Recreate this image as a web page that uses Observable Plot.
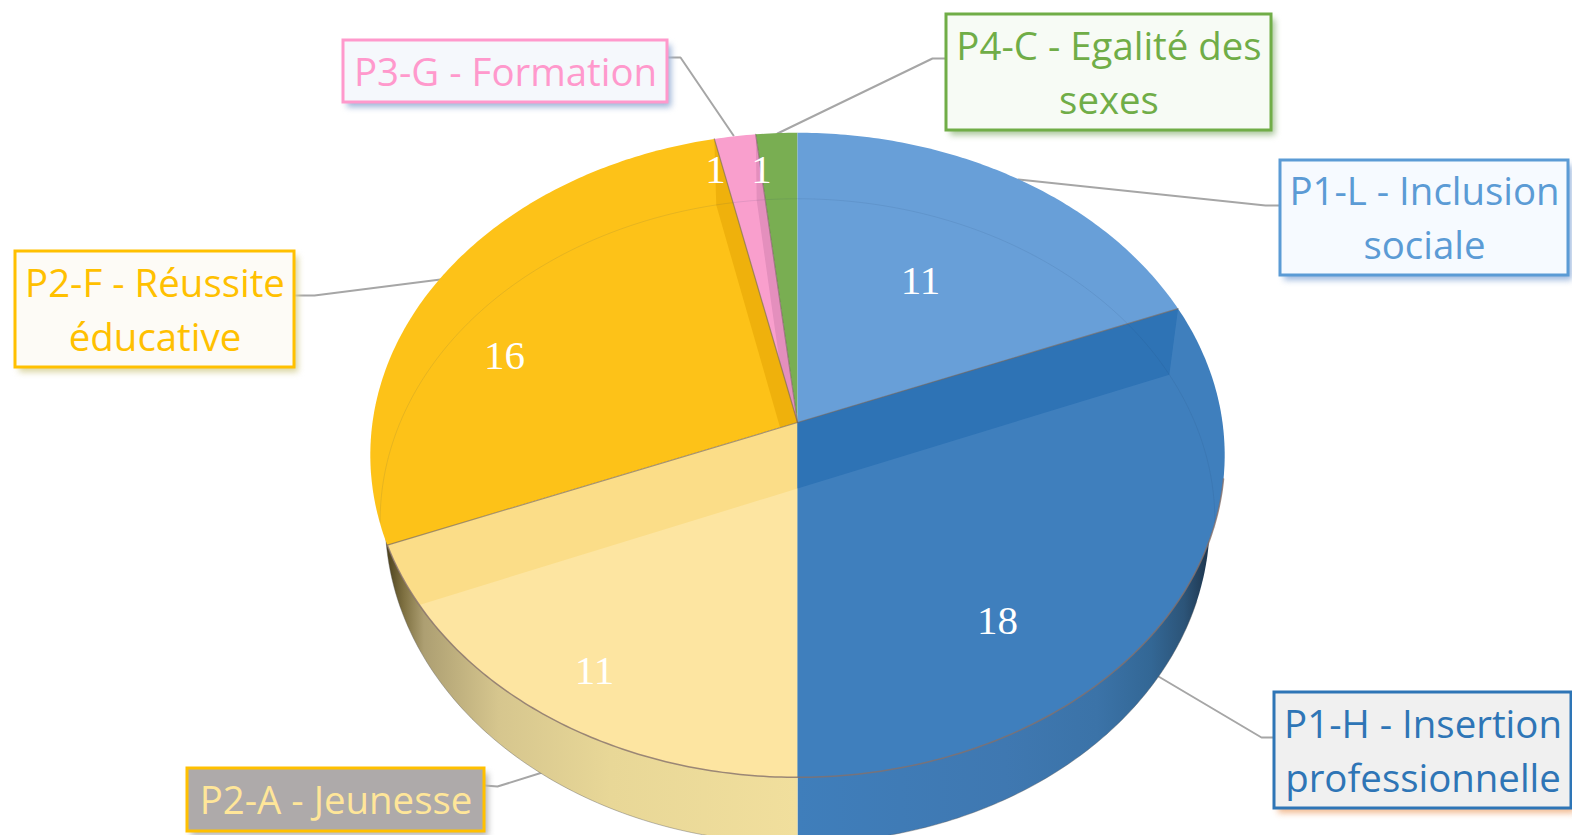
<!DOCTYPE html>
<html>
<head>
<meta charset="utf-8">
<style>html,body{margin:0;padding:0;background:#fff;overflow:hidden}svg{display:block}</style>
<script src="https://cdn.jsdelivr.net/npm/d3@7"></script>
<script src="https://cdn.jsdelivr.net/npm/@observablehq/plot@0.6"></script>
</head>
<body>
<div id="chart"></div>
<script>
// ---- data ----
const categories = ["P1-L","P1-H","P2-A","P2-F","P3-G","P4-C"];
const values = [11,18,11,16,1,1];
const labelLines = [
  ["P1-L - Inclusion","sociale"],
  ["P1-H - Insertion","professionnelle"],
  ["P2-A - Jeunesse"],
  ["P2-F - Réussite","éducative"],
  ["P3-G - Formation"],
  ["P4-C - Egalité des","sexes"]
];
// ---- styles ----
const topColors  = ["#689fd8","#3f7fbd","#fde5a1","#fdc218","#f99fcd","#79ae52"];
const faceColors = ["#689fd8","#2e73b5","#fbdd88","#efb10c","#e48fbd","#79ae52"];
const textColors = ["#5b9bd5","#2e75b6","#ffe699","#ffc000","#ff99cc","#70ad47"];
const boxStroke  = ["#5b9bd5","#2e75b6","#ffc000","#ffc000","#ff99cc","#70ad47"];
const boxFill    = ["#f6faff","#f0f0f0","#aeaaaa","#fdfbf6","#f5f8fc","#f7fbf5"];
const boxShadow  = ["#9db8de","#f2b98f","#b5b5b5","#d9d4a0","#9db4d8","#a9c69a"];
// ---- layout (pixels) ----
const boxX1 = [1280,1274,187,15,343,946];
const boxX2 = [1568,1571,484,294,667,1271];
const boxY1 = [160,692,768,251,40,14];
const boxY2 = [275,808,831,367,102,130];
const leaders = [
  [[1280,205],[1265,205],[1018,179]],
  [[1274,737],[1261,737],[1158,676]],
  [[484,785],[497,786],[545,771]],
  [[294,295],[314,295],[440,279]],
  [[667,57],[680,57],[733,135]],
  [[946,58],[932,58],[777,133]]
];
const valueX = [920,997,594,504,715,761];
const valueY = [280,620,670,355,169,169];
const cx = 797, cy = 422, a = 425, b = 319, k = 0.101, depth = 66;
const floorScale = 0.977, wallScale = 0.965;

// projection of a disc rim at angle t (clockwise from 12 o'clock)
function P(t, level = 0) {
  const u = Math.sin(t), v = -Math.cos(t), w = 1 - k * v;
  const s = level === 0 ? 1 : level === 1 ? floorScale : wallScale;
  return {x: cx + s * a * u / w, y: cy + (level ? depth : 0) + b * v / w};
}
const total = d3.sum(values);
let acc = 0;
const slices = categories.map((c, i) => {
  const t0 = acc / total * 2 * Math.PI;
  acc += values[i];
  return {i, c, t0, t1: acc / total * 2 * Math.PI};
});
const arc = (t0, t1, level) => {
  const n = Math.max(2, Math.ceil((t1 - t0) * 80));
  return d3.range(n + 1).map(j => P(t0 + (t1 - t0) * j / n, level));
};
const deg = Math.PI / 180;
const apex = {x: cx, y: cy}, apexLow = {x: cx, y: cy + depth};
const tag = (pts, key, fill) => pts.map(p => ({...p, key, fill}));
const topOf = i => tag([apex, ...arc(slices[i].t0, slices[i].t1, 0)], "top" + i, topColors[i]);
const faceOf = (i, t) => tag([apex, P(t, 0), P(t, 1), apexLow], "face" + i, faceColors[i]);
// the P2-A cut face stops where its lower edge leaves the top surface
const faceClippedToRim = (i, t) => {
  const q = P(t, 1);
  const side = p => (q.x - apexLow.x) * (p.y - apexLow.y) - (q.y - apexLow.y) * (p.x - apexLow.x);
  const s0 = Math.sign(side(P(t, 0)));
  let end = t;
  while (end > t - 1 && Math.sign(side(P(end, 0))) === s0) end -= 0.002;
  return tag([apex, ...arc(end, t, 0).reverse(), apexLow], "face" + i, faceColors[i]);
};
// painter's order: every cut face is covered by the slices that follow it
const surfaceRows = [
  ...topOf(5), ...topOf(0),
  ...topOf(4), ...faceOf(4, slices[4].t1),
  ...topOf(3), ...faceOf(3, slices[3].t1),
  ...topOf(2), ...faceClippedToRim(2, slices[2].t1),
  ...topOf(1), ...faceOf(1, slices[1].t0)
];
const wallBlueRows = [...arc(slices[1].t0, Math.PI, 2), apexLow];
const wallYellowRows = [...arc(Math.PI, slices[2].t1 + 15 * deg, 2), apexLow];
const silhouette = arc(110 * deg, 262 * deg, 2);
const faintRing = arc(264 * deg, 2 * Math.PI + 97 * deg, 1);
const frontRim = arc(100 * deg, slices[2].t1, 0);
const edgeRows = [slices[0].t1, slices[2].t1, slices[4].t0, slices[4].t1]
  .flatMap((t, i) => tag([apex, P(t, 0)], "edge" + i));

const boxes = categories.map((c, i) => ({
  c, x1: boxX1[i], x2: boxX2[i], y1: boxY1[i], y2: boxY2[i],
  stroke: boxStroke[i], fill: boxFill[i], shadow: boxShadow[i]
}));
const textRows = labelLines.flatMap((ls, i) => ls.map((t, j) => ({
  t, color: textColors[i],
  x: (boxX1[i] + boxX2[i]) / 2,
  y: (boxY1[i] + boxY2[i]) / 2 + (j - (ls.length - 1) / 2) * 54 + 2
})));
const leaderRows = leaders.flatMap((l, i) => l.map(([x, y]) => ({x, y, key: categories[i]})));
const valueRows = values.map((v, i) => ({v: String(v), x: valueX[i], y: valueY[i]}));

const gradient = (id, x1, x2, stops) => () => {
  const defs = d3.create("svg:defs");
  const g = defs.append("linearGradient").attr("id", id).attr("gradientUnits", "userSpaceOnUse")
    .attr("x1", x1).attr("x2", x2).attr("y1", 0).attr("y2", 0);
  stops.forEach(([o, col]) => g.append("stop").attr("offset", o).attr("stop-color", col));
  return defs.node();
};
const blur = (index, scales, values, dims, ctx, next) => {
  const g = next(index, scales, values, dims, ctx);
  g.style.filter = "blur(3px)";
  return g;
};

const chart = Plot.plot({
  width: 1572, height: 835, margin: 0,
  x: {domain: [0, 1572], range: [0, 1572], axis: null},
  y: {domain: [0, 835], range: [0, 835], axis: null},
  color: {type: "identity"},
  style: {background: "#fff"},
  marks: [
    gradient("wallBlue", 797, 1213, [[0,"#3f7ebb"],[0.5,"#3f78b1"],[0.72,"#3b73a8"],[0.85,"#336795"],[0.93,"#2c5478"],[1,"#1a2f45"]]),
    gradient("wallYellow", 382, 797, [[0,"#3f3514"],[0.05,"#7d6f40"],[0.1,"#ad9f72"],[0.28,"#d6c68e"],[0.55,"#e8d797"],[1,"#f1df9d"]]),
    Plot.line(leaderRows, {x: "x", y: "y", z: "key", stroke: "#a6a6a6", strokeWidth: 2}),
    Plot.line(wallBlueRows, {x: "x", y: "y", fill: "url(#wallBlue)", stroke: "none"}),
    Plot.line(wallYellowRows, {x: "x", y: "y", fill: "url(#wallYellow)", stroke: "none"}),
    Plot.line(silhouette, {x: "x", y: "y", stroke: "#5a5a5a", strokeOpacity: 0.4, strokeWidth: 1}),
    Plot.line(surfaceRows, {x: "x", y: "y", z: "key", fill: "fill", stroke: "none"}),
    Plot.line(faintRing, {x: "x", y: "y", stroke: "#1f3864", strokeOpacity: 0.1, strokeWidth: 1}),
    Plot.line(edgeRows, {x: "x", y: "y", z: "key", stroke: "#77695f", strokeOpacity: 0.65, strokeWidth: 1.2}),
    Plot.line(frontRim, {x: "x", y: "y", stroke: "#85706c", strokeOpacity: 0.8, strokeWidth: 1.5}),
    Plot.rect(boxes, {x1: "x1", x2: "x2", y1: "y1", y2: "y2", fill: "shadow", dx: 4, dy: 5, render: blur}),
    Plot.rect(boxes, {x1: "x1", x2: "x2", y1: "y1", y2: "y2", fill: "fill", stroke: "stroke", strokeWidth: 3}),
    Plot.text(textRows, {x: "x", y: "y", text: "t", fill: "color", fontFamily: "Open Sans", fontSize: 38.4}),
    Plot.text(valueRows, {x: "x", y: "y", text: "v", fill: "#fff", fontFamily: "Liberation Serif", fontSize: 41})
  ]
});
document.getElementById("chart").append(chart);
</script>
</body>
</html>
